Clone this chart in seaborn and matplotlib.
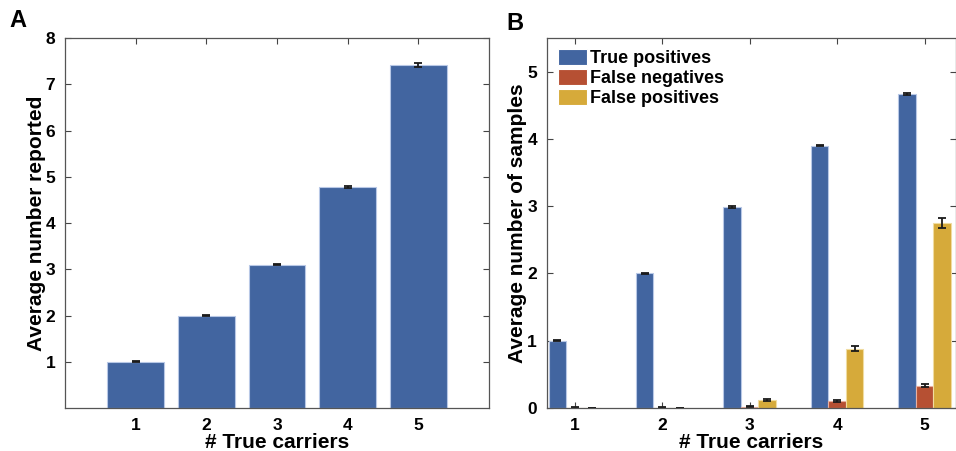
import numpy as np
import pandas as pd
import matplotlib.pyplot as plt
import seaborn as sns

carriers = [1, 2, 3, 4, 5]

# panel A
reported = [1.0, 2.0, 3.1, 4.78, 7.42]
reported_err = [0.01, 0.01, 0.015, 0.03, 0.05]

# panel B
series = ["True positives", "False negatives", "False positives"]
true_pos = [1.0, 2.0, 2.99, 3.9, 4.67]
true_pos_err = [0.005, 0.008, 0.01, 0.012, 0.02]
false_neg = [0.005, 0.005, 0.02, 0.1, 0.33]
false_neg_err = [0.003, 0.003, 0.008, 0.012, 0.02]
false_pos = [0.003, 0.003, 0.12, 0.88, 2.75]
false_pos_err = [0.003, 0.003, 0.012, 0.035, 0.07]

colors = ["#4265a0", "#b65033", "#d6aa3a"]
edge_colors = ["#b8c8e6", "#e8b0a0", "#f0dca0"]

sns.set_style("white")
plt.rcParams['font.family'] = ['Liberation Sans', 'DejaVu Sans']
plt.rcParams['font.weight'] = 'bold'
plt.rcParams['axes.labelweight'] = 'bold'
plt.rcParams['text.color'] = 'black'
plt.rcParams['axes.labelcolor'] = 'black'
plt.rcParams['xtick.color'] = 'black'
plt.rcParams['ytick.color'] = 'black'

fig = plt.figure(figsize=(9.56, 4.51), dpi=100)
axA = fig.add_axes([0.068, 0.0953, 0.4435, 0.8204])
axB = fig.add_axes([0.572, 0.0953, 0.428, 0.8204])

dfA = pd.DataFrame({"carriers": carriers, "reported": reported})
sns.barplot(data=dfA, x="carriers", y="reported", native_scale=True, width=0.8,
            color=colors[0], saturation=1, edgecolor=edge_colors[0], linewidth=0.8,
            errorbar=None, ax=axA)
bars = axA.containers[0]
xs = [b.get_x() + b.get_width() / 2 for b in bars]
axA.errorbar(xs, reported, yerr=reported_err, fmt="none", ecolor="#1a1a1a",
             elinewidth=1.3, capsize=3, capthick=1.3)

dfB = pd.DataFrame({
    "carriers": carriers * 3,
    "value": true_pos + false_neg + false_pos,
    "kind": [series[0]] * 5 + [series[1]] * 5 + [series[2]] * 5,
})
sns.barplot(data=dfB, x="carriers", y="value", hue="kind", hue_order=series,
            native_scale=True, width=0.6, palette=colors, saturation=1,
            linewidth=0.8, errorbar=None, ax=axB)
errs = [true_pos_err, false_neg_err, false_pos_err]
vals = [true_pos, false_neg, false_pos]
bar_groups = list(axB.containers)
for i, cont in enumerate(bar_groups):
    for b in cont:
        b.set_edgecolor(edge_colors[i])
    xs = [b.get_x() + b.get_width() / 2 for b in cont]
    axB.errorbar(xs, vals[i], yerr=errs[i], fmt="none", ecolor="#1a1a1a",
                 elinewidth=1.3, capsize=3, capthick=1.3)

axA.set_xlim(0, 6)
axA.set_ylim(0, 8)
axA.set_yticks(range(1, 9))
axB.set_xlim(0.68, 5.36)
axB.set_ylim(0, 5.5)
axB.set_yticks(range(0, 6))

for ax, ylab, lp in [(axA, "Average number reported", 0), (axB, "Average number of samples", 0)]:
    ax.set_xticks(carriers)
    ax.set_xticklabels([str(c) for c in carriers])
    ax.set_xlabel("# True carriers", fontsize=15, fontweight="bold", labelpad=0)
    ax.set_ylabel(ylab, fontsize=15, fontweight="bold", labelpad=lp)
    ax.tick_params(direction="in", length=4, width=0.8, color="#444444",
                   labelsize=12.5, labelcolor="black",
                   top=True, right=True, bottom=True, left=True, pad=7)
    for lab in ax.get_xticklabels() + ax.get_yticklabels():
        lab.set_fontweight("bold")
    for s in ax.spines.values():
        s.set_color("#555555")
        s.set_linewidth(0.9)

leg = axB.legend(loc="upper left", frameon=False, fontsize=13, handlelength=1.65,
                 handleheight=1.0, handletextpad=0.15, labelspacing=0.1,
                 borderaxespad=0.3, borderpad=0.3)
for t in leg.get_texts():
    t.set_fontweight("bold")
    t.set_color("black")

fig.text(0.010, 0.955, "A", fontsize=17, fontweight="bold", va="center")
fig.text(0.530, 0.948, "B", fontsize=17, fontweight="bold", va="center")

fig.savefig("out.png", dpi=100)
